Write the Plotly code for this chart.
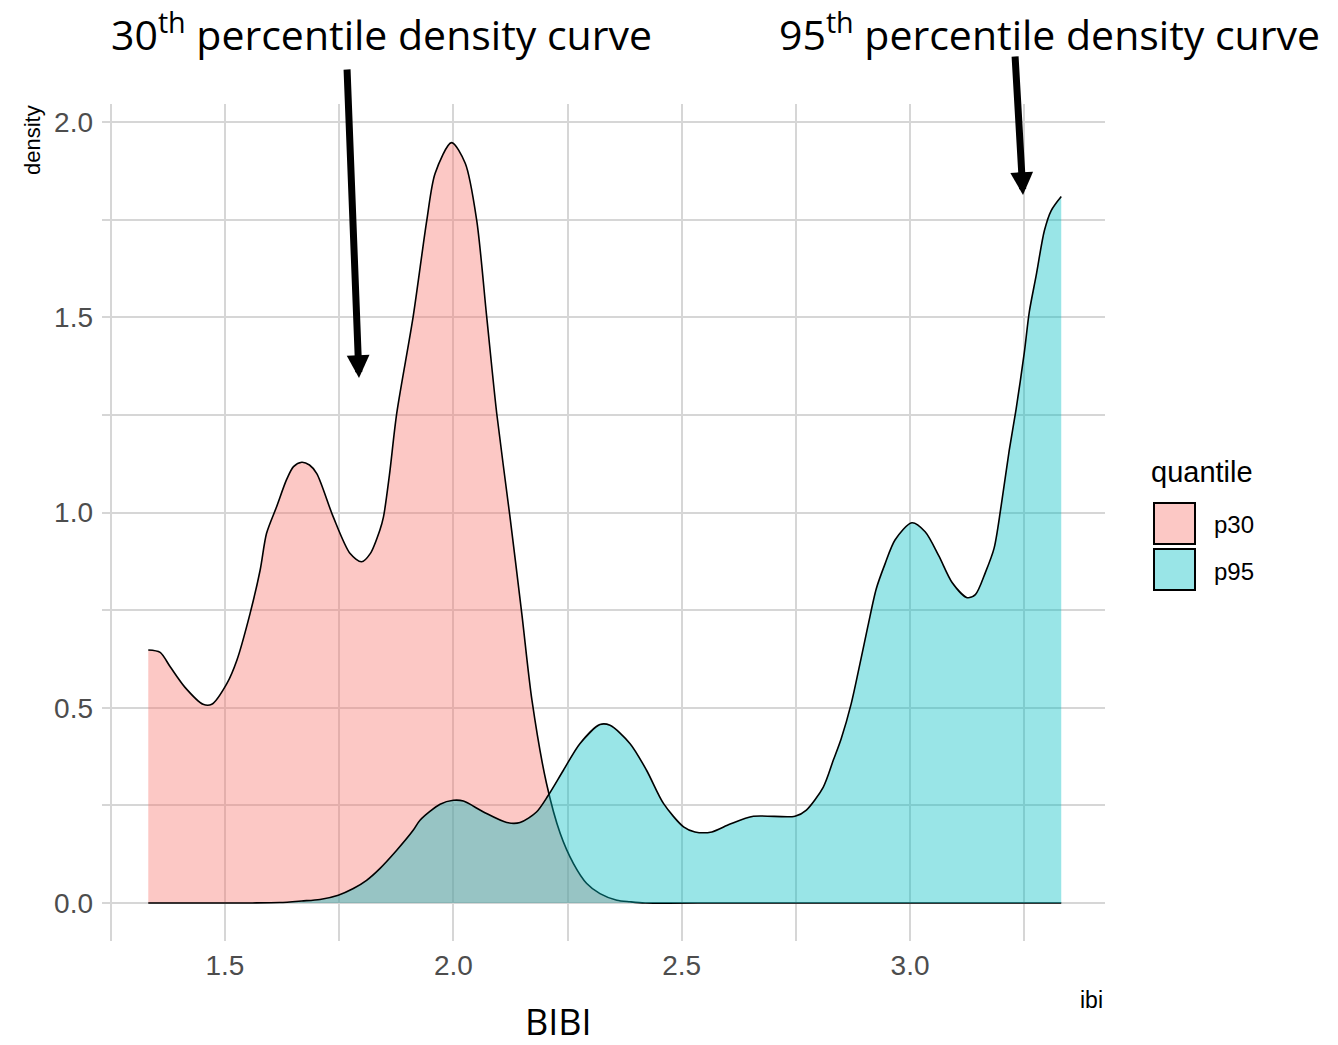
import plotly.graph_objects as go

# ---------------- data ----------------
p30_x = [1.332, 1.358, 1.380, 1.412, 1.452, 1.471, 1.504, 1.526, 1.555, 1.577,
         1.591, 1.613, 1.635, 1.650, 1.668, 1.685, 1.701, 1.737, 1.774, 1.799, 1.818, 1.839,
         1.847, 1.860, 1.876, 1.912, 1.942, 1.960, 1.996, 2.026, 2.051, 2.073,
         2.095, 2.124, 2.150, 2.172, 2.204, 2.234, 2.263, 2.292, 2.321, 2.358,
         2.387, 2.420, 2.600, 3.000, 3.331]
p30_y = [0.648, 0.642, 0.605, 0.553, 0.509, 0.509, 0.562, 0.622, 0.742, 0.853,
         0.947, 1.015, 1.085, 1.118, 1.129, 1.122, 1.100, 0.989, 0.895, 0.874, 0.895, 0.955,
         0.989, 1.096, 1.254, 1.502, 1.750, 1.869, 1.948, 1.895, 1.750, 1.502,
         1.254, 0.989, 0.740, 0.520, 0.306, 0.178, 0.101, 0.050, 0.024, 0.007,
         0.003, 0.000, 0.000, 0.000, 0.000]

p95_x = [1.332, 1.450, 1.560, 1.620, 1.668, 1.708, 1.748, 1.781, 1.810, 1.839,
         1.876, 1.912, 1.927, 1.971, 2.000, 2.022, 2.066, 2.117, 2.146, 2.182,
         2.208, 2.241, 2.277, 2.321, 2.343, 2.387, 2.423, 2.460, 2.504, 2.529,
         2.566, 2.606, 2.657, 2.748, 2.773, 2.810, 2.832, 2.849, 2.871, 2.893,
         2.908, 2.926, 2.945, 2.967, 3.004, 3.033, 3.063, 3.092, 3.125, 3.143,
         3.165, 3.184, 3.199, 3.217, 3.232, 3.250, 3.261, 3.276, 3.294, 3.309,
         3.331]
p95_y = [0.000, 0.000, 0.000, 0.001, 0.005, 0.009, 0.020, 0.037, 0.058, 0.088,
         0.135, 0.186, 0.212, 0.253, 0.263, 0.261, 0.233, 0.206, 0.206, 0.233,
         0.276, 0.340, 0.408, 0.457, 0.455, 0.408, 0.340, 0.255, 0.195, 0.182,
         0.182, 0.202, 0.222, 0.222, 0.238, 0.297, 0.366, 0.420, 0.510, 0.628,
         0.711, 0.805, 0.868, 0.930, 0.974, 0.951, 0.889, 0.821, 0.782, 0.790,
         0.847, 0.909, 1.014, 1.159, 1.264, 1.409, 1.514, 1.607, 1.722, 1.774,
         1.810]

series_names = ["p30", "p95"]
x_tick_vals = [1.25, 1.5, 1.75, 2.0, 2.25, 2.5, 2.75, 3.0, 3.25]
x_tick_text = ["", "1.5", "", "2.0", "", "2.5", "", "3.0", ""]
y_tick_vals = [0.0, 0.25, 0.5, 0.75, 1.0, 1.25, 1.5, 1.75, 2.0]
y_tick_text = ["0.0", "", "0.5", "", "1.0", "", "1.5", "", "2.0"]

# ---------------- styling ----------------
FILL_P30 = "rgba(248,118,109,0.4)"
FILL_P95 = "rgba(0,191,196,0.4)"
KEY_P30 = "rgb(252,200,197)"
KEY_P95 = "rgb(153,229,231)"
FONT = "Liberation Sans"
CALLOUT_FONT = "Open Sans"

W, H = 1338, 1045
PL, PR, PT, PB = 102, 1105, 104, 941


def fx(px):
    return (px - PL) / (PR - PL)


def fy(py):
    return (PB - py) / (PB - PT)


fig = go.Figure()
fig.add_trace(go.Scatter(
    x=p30_x, y=p30_y, name=series_names[0], mode="lines",
    line=dict(color="black", width=1.6, shape="spline", smoothing=0.8),
    fill="tozeroy", fillcolor=FILL_P30, showlegend=False, hoverinfo="x+y"))
fig.add_trace(go.Scatter(
    x=p95_x, y=p95_y, name=series_names[1], mode="lines",
    line=dict(color="black", width=1.6, shape="spline", smoothing=0.8),
    fill="tozeroy", fillcolor=FILL_P95, showlegend=False, hoverinfo="x+y"))

grid = "#d6d6d6"
fig.update_layout(
    width=W, height=H,
    margin=dict(l=PL, r=W - PR, t=PT, b=H - PB, pad=0),
    paper_bgcolor="white", plot_bgcolor="white",
    font=dict(family=FONT, color="black"),
    showlegend=False,
    xaxis=dict(range=[1.2307, 3.4268], tickvals=x_tick_vals, ticktext=x_tick_text,
               showgrid=True, gridcolor=grid, gridwidth=1.6, zeroline=False,
               showline=False, ticks="", ticklabelstandoff=5,
               tickfont=dict(family=FONT, size=28, color="#4d4d4d")),
    yaxis=dict(range=[-0.0975, 2.0469], tickvals=y_tick_vals, ticktext=y_tick_text,
               showgrid=True, gridcolor=grid, gridwidth=1.6, zeroline=False,
               showline=False, ticks="", ticklabelstandoff=8,
               tickfont=dict(family=FONT, size=28, color="#4d4d4d")),
)

ann = []
# axis titles (ggplot-style, placed at panel ends)
ann.append(dict(text="density", x=fx(33), y=fy(140), xref="paper", yref="paper",
                showarrow=False, textangle=-90, xanchor="center", yanchor="middle",
                font=dict(family=FONT, size=22, color="black")))
ann.append(dict(text="ibi", x=fx(1105), y=fy(1000), xref="paper", yref="paper",
                showarrow=False, xanchor="right", yanchor="middle",
                font=dict(family=FONT, size=23, color="black")))
ann.append(dict(text="BIBI", x=fx(558), y=fy(1021), xref="paper", yref="paper",
                showarrow=False, xanchor="center", yanchor="middle",
                font=dict(family=CALLOUT_FONT, size=36, color="black")))

# callout texts (box anchored at the top edge of the page)
ann.append(dict(text="30<sup>th</sup> percentile density curve", x=fx(381), y=fy(0),
                xref="paper", yref="paper", showarrow=False, xanchor="center",
                yanchor="top", font=dict(family=CALLOUT_FONT, size=41, color="black")))
ann.append(dict(text="95<sup>th</sup> percentile density curve", x=fx(1049), y=fy(0),
                xref="paper", yref="paper", showarrow=False, xanchor="center",
                yanchor="top", font=dict(family=CALLOUT_FONT, size=41, color="black")))

# arrows
ann.append(dict(text="", x=fx(359), y=fy(378), xref="paper", yref="paper",
                showarrow=True, ax=-12, ay=-310, arrowhead=2, arrowsize=0.65,
                arrowwidth=7, arrowcolor="black"))
ann.append(dict(text="", x=fx(1023), y=fy(195), xref="paper", yref="paper",
                showarrow=True, ax=-8, ay=-140, arrowhead=2, arrowsize=0.65,
                arrowwidth=7, arrowcolor="black"))

# legend (drawn manually to match ggplot key boxes)
ann.append(dict(text="quantile", x=fx(1149), y=fy(472), xref="paper", yref="paper",
                showarrow=False, xanchor="left", yanchor="middle",
                font=dict(family=FONT, size=29, color="black")))
ann.append(dict(text=series_names[0], x=fx(1212), y=fy(524), xref="paper", yref="paper",
                showarrow=False, xanchor="left", yanchor="middle",
                font=dict(family=FONT, size=24, color="black")))
ann.append(dict(text=series_names[1], x=fx(1212), y=fy(571), xref="paper", yref="paper",
                showarrow=False, xanchor="left", yanchor="middle",
                font=dict(family=FONT, size=24, color="black")))
fig.update_layout(annotations=ann)

fig.add_shape(type="rect", xref="paper", yref="paper",
              x0=fx(1154), x1=fx(1195), y0=fy(544), y1=fy(503),
              fillcolor=KEY_P30, line=dict(color="black", width=2))
fig.add_shape(type="rect", xref="paper", yref="paper",
              x0=fx(1154), x1=fx(1195), y0=fy(590), y1=fy(549),
              fillcolor=KEY_P95, line=dict(color="black", width=2))

fig.write_html("out.html")
